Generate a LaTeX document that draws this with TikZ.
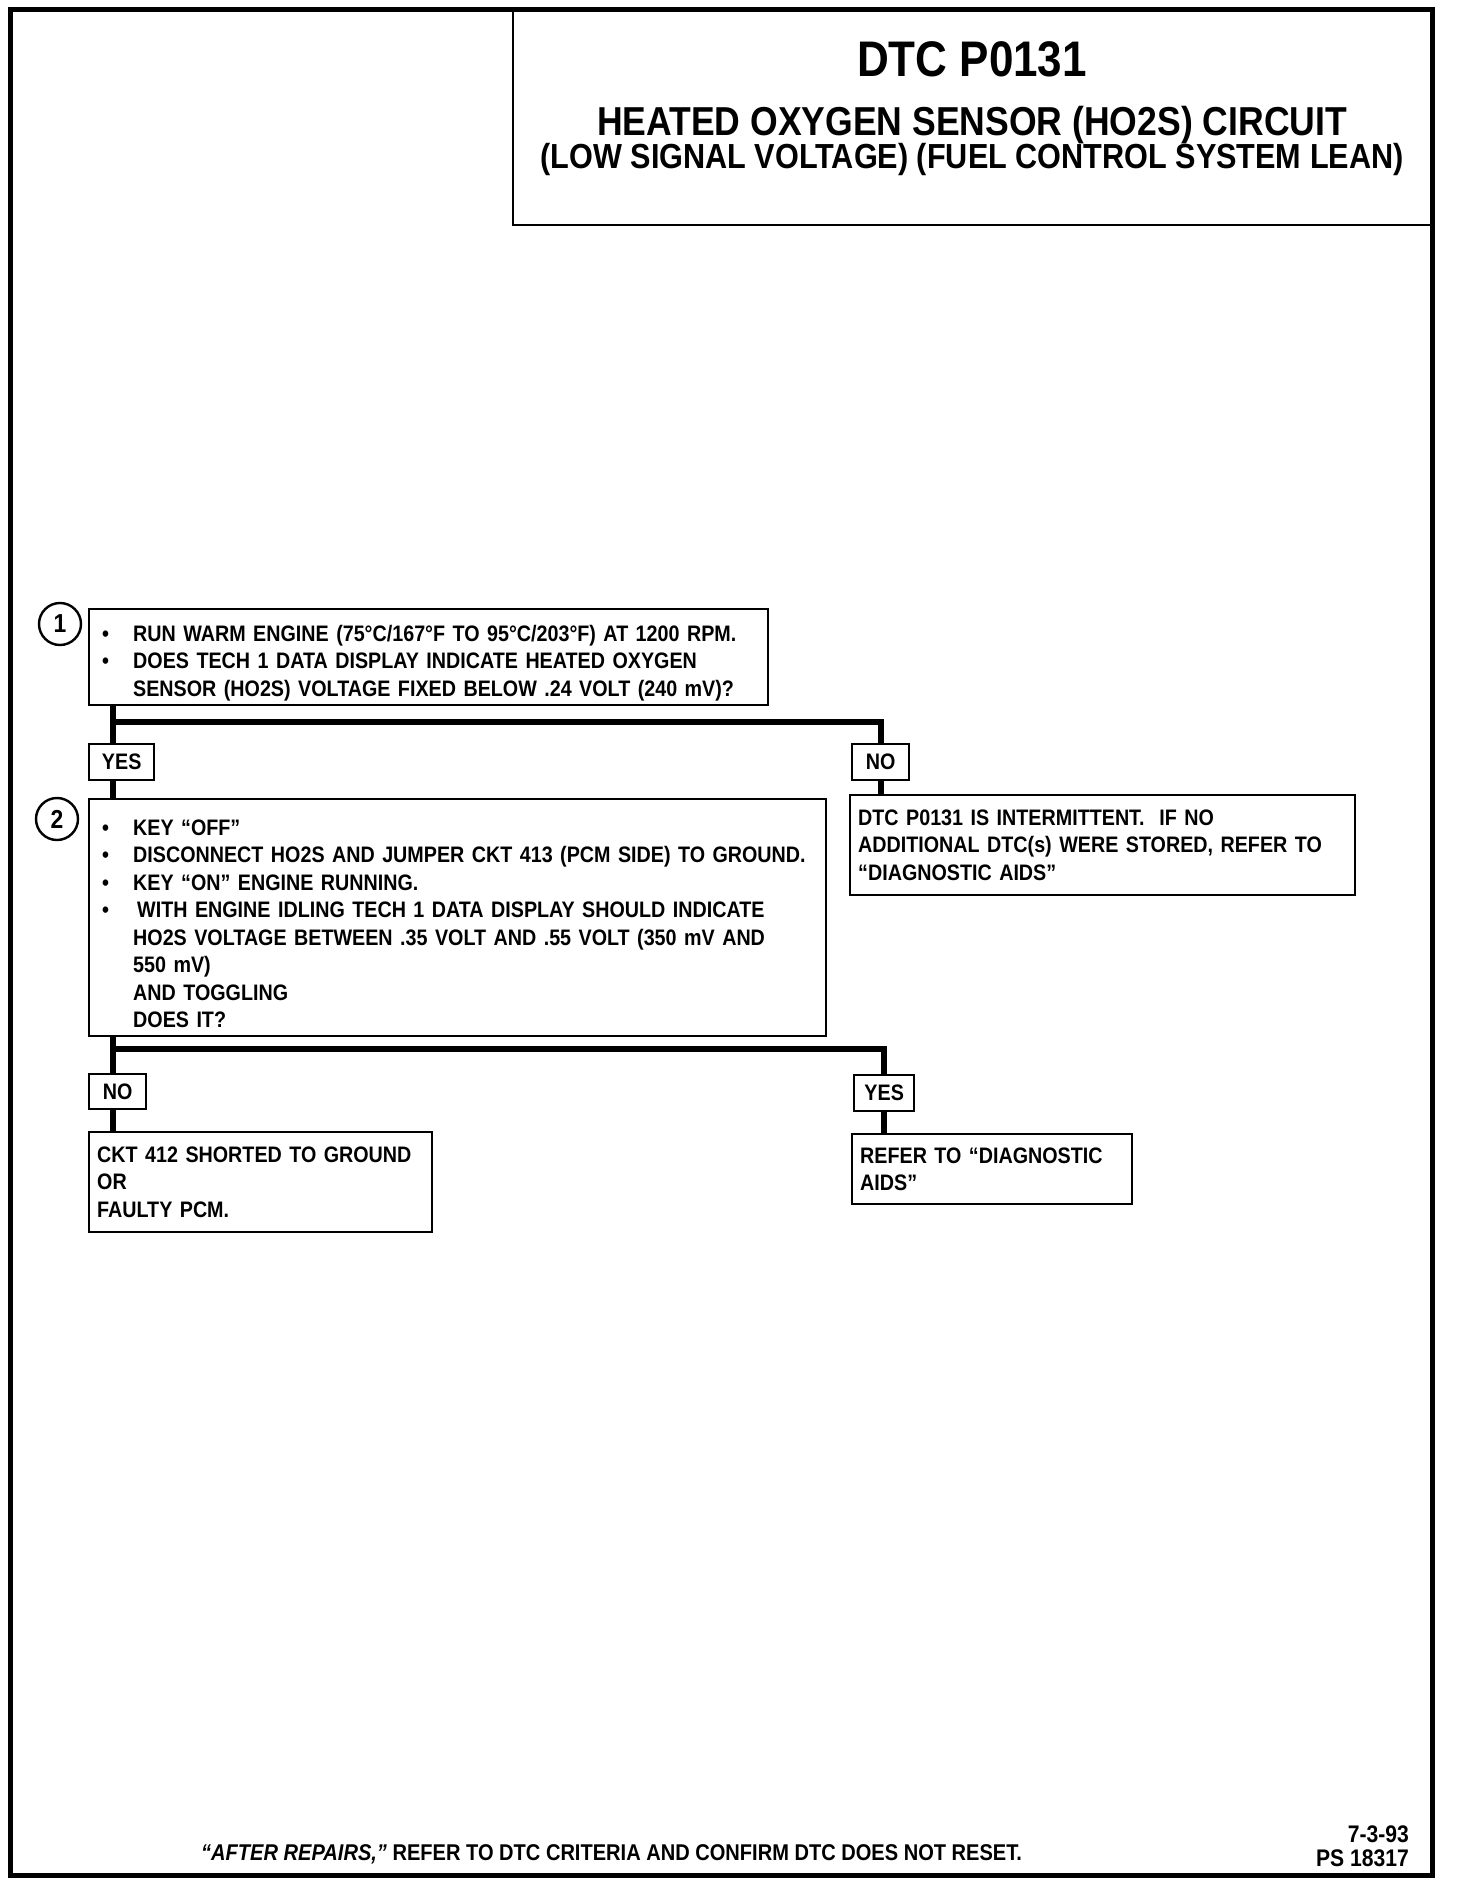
\documentclass[tikz,border=0pt]{standalone}
\usepackage{fontspec}
\setmainfont{Liberation Sans}[FakeStretch=0.88]
\newcommand\blt{\par\noindent\makebox[18pt][l]{\hspace{2.4pt}\textbullet}}
\newcommand\contline{\par\noindent\hspace*{18pt}}

\begin{document}
\begin{tikzpicture}[x=0.5pt,y=-0.5pt,line width=1.2pt,
  box/.style={draw,anchor=north west,inner xsep=4pt,inner ysep=0pt,align=left,font=\fontsize{11.2}{13.75}\selectfont\bfseries},
  tag/.style={draw,anchor=north west,inner sep=0pt,minimum height=18pt,font=\fontsize{11.2}{13.75}\selectfont\bfseries},
  num/.style={circle,draw,minimum size=21pt,inner sep=0pt,font=\fontsize{13}{15}\selectfont\bfseries},
  wire/.style={line width=2.8pt}]
\path[use as bounding box] (0,0) rectangle (1456,1888);
\draw[line width=2.5pt] (10,10) rectangle (1432,1875);
\draw[line width=1.3pt] (513,10) -- (513,225) -- (1432,225);
\node[anchor=base,font=\fontsize{25}{30}\selectfont\bfseries] (ttl) at (972,77) {DTC P0131};
\node[anchor=base,font=\fontsize{20.2}{24}\selectfont\bfseries] (sub) at (972,136) {HEATED OXYGEN SENSOR (HO2S) CIRCUIT};
\node[anchor=base,font=\fontsize{17.4}{21}\selectfont\bfseries] (subsub) at (972,169) {(LOW SIGNAL VOLTAGE) (FUEL CONTROL SYSTEM LEAN)};

\node[num] (c1) at (60,624) {1};
\node[box,text width=331.5pt,minimum height=48pt] (q1) at (88,608) {\blt RUN WARM ENGINE (75°C/167°F TO 95°C/203°F) AT 1200 RPM.
  \blt DOES TECH 1 DATA DISPLAY INDICATE HEATED OXYGEN
  \contline SENSOR (HO2S) VOLTAGE FIXED BELOW .24 VOLT (240 mV)?};
\node[tag,minimum width=32.5pt] (yes1) at (88,743) {YES};
\node[tag,minimum width=28.5pt] (no1) at (851,743) {NO};
\node[num] (c2) at (57,819) {2};
\node[box,text width=360.5pt,minimum height=118.5pt] (q2) at (88,798) {\blt KEY “OFF”
  \blt DISCONNECT HO2S AND JUMPER CKT 413 (PCM SIDE) TO GROUND.
  \blt KEY “ON” ENGINE RUNNING.
  \blt \hspace{2pt}WITH ENGINE IDLING TECH 1 DATA DISPLAY SHOULD INDICATE
  \contline HO2S VOLTAGE BETWEEN .35 VOLT AND .55 VOLT (350 mV AND
  \contline 550 mV)
  \contline AND TOGGLING
  \contline DOES IT?};
\node[box,text width=244.5pt,minimum height=50pt] (r1) at (849,794) {DTC P0131 IS INTERMITTENT.\ \ IF NO\\ADDITIONAL DTC(s) WERE STORED, REFER TO\\“DIAGNOSTIC AIDS”};
\node[tag,minimum width=28.5pt,minimum height=17.5pt] (no2) at (88,1073) {NO};
\node[tag,minimum width=30pt] (yes2) at (853,1074) {YES};
\node[box,text width=163.5pt,minimum height=50pt] (r2) at (88,1131) {CKT 412 SHORTED TO GROUND\\OR\\FAULTY PCM.};
\node[box,text width=132pt,minimum height=35pt] (r3) at (851,1133) {REFER TO “DIAGNOSTIC\\AIDS”};

\coordinate (j1) at (113,722);
\draw[wire] (q1.south -| j1) -- (yes1.north -| j1);
\draw[wire] (j1) -| (no1.north);
\draw[wire] (yes1.south -| j1) -- (q2.north -| j1);
\draw[wire] (no1.south) -- (r1.north -| no1.south);
\coordinate (j2) at (113,1049);
\draw[wire] (q2.south -| j2) -- (no2.north -| j2);
\draw[wire] (j2) -| (yes2.north);
\draw[wire] (no2.south -| j2) -- (r2.north -| j2);
\draw[wire] (yes2.south) -- (r3.north -| yes2.south);

\node[anchor=base west,inner sep=0pt,font=\fontsize{11.4}{13}\selectfont\bfseries] (foot) at (200,1860) {\textit{“AFTER REPAIRS,”} REFER TO DTC CRITERIA AND CONFIRM DTC DOES NOT RESET.};
\node[anchor=east,align=right,inner sep=0pt,font=\fontsize{12}{12}\selectfont\bfseries] (date) at (1410,1846) {7-3-93\\PS 18317};
\end{tikzpicture}
\end{document}
